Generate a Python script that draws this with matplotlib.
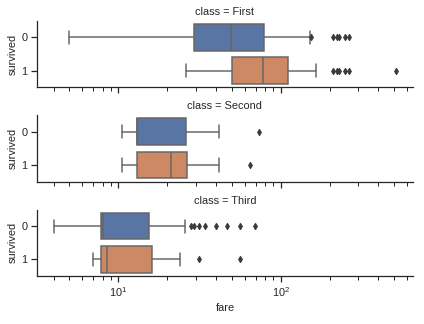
import matplotlib
matplotlib.use("Agg")
import matplotlib.pyplot as plt
import seaborn as sns

sns.set_theme(style="ticks")
plt.rcParams["font.family"] = ["Liberation Sans", "DejaVu Sans"]

# titanic fares by class / survived, box stats
classes = ["First", "Second", "Third"]
survived = [0, 1]
whislo = [[5.0, 25.93], [10.5, 10.5], [4.0125, 6.975]]
q1 = [[29.3, 50.4], [13.0, 13.0], [7.8, 7.8]]
med = [[49.5, 77.96], [13.0, 21.0], [8.1, 8.55]]
q3 = [[79.0, 110.9], [26.0, 26.3], [15.5, 16.1]]
whishi = [[151.55, 164.87], [41.58, 41.58], [25.6, 24.15]]
fliers = [
    [[153.46, 211.5, 221.78, 227.53, 247.52, 263.0],
     [211.34, 221.78, 227.53, 247.52, 262.375, 512.33]],
    [[73.5], [65.0]],
    [[27.9, 29.125, 31.275, 34.375, 39.69, 46.9, 56.5, 69.55],
     [31.39, 56.5]],
]

colors = ["#5875a4", "#cc8963"]
gray = "#666666"

fig, axes = plt.subplots(3, 1, sharex=True, figsize=(424 / 72, 324 / 72), dpi=72)
fig.subplots_adjust(left=0.087, right=0.974, top=0.936, bottom=0.148, hspace=0.42)

for i, ax in enumerate(axes):
    stats = []
    for j in range(2):
        stats.append(dict(med=med[i][j], q1=q1[i][j], q3=q3[i][j],
                          whislo=whislo[i][j], whishi=whishi[i][j],
                          fliers=fliers[i][j]))
    bp = ax.bxp(stats, positions=survived, widths=0.8, orientation="horizontal",
                patch_artist=True,
                boxprops=dict(edgecolor=gray, linewidth=1.5),
                medianprops=dict(color=gray, linewidth=1.5),
                whiskerprops=dict(color=gray, linewidth=1.5),
                capprops=dict(color=gray, linewidth=1.5),
                flierprops=dict(marker="d", markersize=4.5, markerfacecolor="#3a3a3a",
                                markeredgecolor="#3a3a3a", linestyle="none"))
    for patch, c in zip(bp["boxes"], colors):
        patch.set_facecolor(c)
    ax.set_xscale("log")
    ax.set_ylim(1.5, -0.5)
    ax.set_yticks(survived)
    ax.set_yticklabels([str(s) for s in survived])
    ax.set_ylabel("survived", fontsize=11)
    ax.set_title("class = " + classes[i], fontsize=11)
    ax.tick_params(labelsize=11)
    sns.despine(ax=ax)

axes[-1].set_xlim(3.15, 653)
axes[-1].set_xlabel("fare", fontsize=11)

fig.savefig("out.png", dpi=72)
